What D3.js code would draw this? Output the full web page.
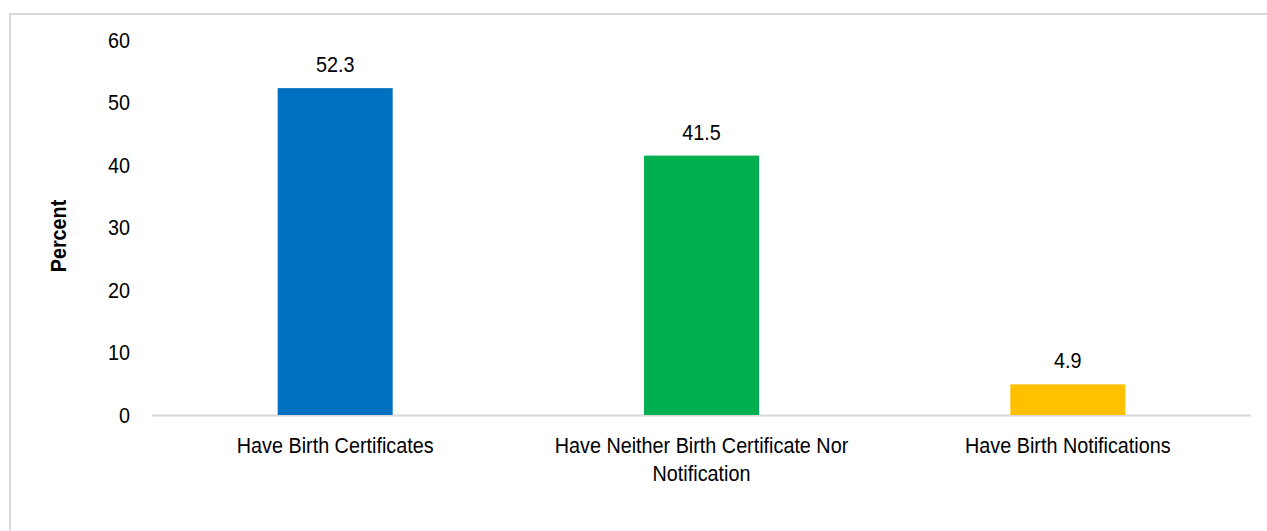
<!DOCTYPE html>
<html><head><meta charset="utf-8">
<script src="https://cdn.jsdelivr.net/npm/d3@7"></script>
<style>body{margin:0;background:#fff;} svg{display:block;}</style>
</head><body>
<svg id="c" width="1267" height="531"></svg>
<script>
const categories = [["Have Birth Certificates"], ["Have Neither Birth Certificate Nor", "Notification"], ["Have Birth Notifications"]];
const values = [52.3, 41.5, 4.9];
const colors = ["#0070c0", "#00b050", "#ffc000"];
const yTicks = [0, 10, 20, 30, 40, 50, 60];
const yLabel = "Percent";

const svg = d3.select("#c");
const font = "'Liberation Sans', Arial, sans-serif";
const FS = 22, SX = 0.9;
function txt(xp, yp, s, anchor, extra) {
  const t = svg.append("text")
    .attr("transform", `translate(${xp},${yp}) ${extra || ""} scale(${SX},1)`)
    .attr("text-anchor", anchor).attr("font-family", font).attr("font-size", FS).attr("fill", "#000")
    .text(s);
  return t;
}
// outer border
svg.append("rect").attr("x", 10).attr("y", 14).attr("width", 1300).attr("height", 600)
  .attr("fill", "none").attr("stroke", "#d9d9d9").attr("stroke-width", 2);

const x0 = 152, x1 = 1251, yTop = 40, yBot = 415;
const x = d3.scaleBand().domain(d3.range(values.length)).range([x0, x1]).padding(0);
const y = d3.scaleLinear().domain([0, 60]).range([yBot, yTop]);
const barW = x.bandwidth() * 0.314;

// y tick labels
yTicks.forEach(t => {
  txt(130, y(t), y.tickFormat()(t), "end").attr("dy", "0.36em");
});

// baseline
svg.append("line").attr("x1", x0).attr("x2", x1).attr("y1", y(0) + 0.5).attr("y2", y(0) + 0.5)
  .attr("stroke", "#d9d9d9").attr("stroke-width", 2);

// bars
svg.selectAll("rect.bar").data(values).enter().append("rect").attr("class", "bar")
  .attr("x", (d, i) => x(i) + x.bandwidth() / 2 - barW / 2)
  .attr("y", d => y(d)).attr("width", barW).attr("height", d => y(0) - y(d))
  .attr("fill", (d, i) => colors[i]);

// value labels
values.forEach((d, i) => {
  txt(x(i) + x.bandwidth() / 2, y(d) - 16, d.toFixed(1), "middle");
});

// category labels
categories.forEach((lines, i) => {
  lines.forEach((l, j) => {
    txt(x(i) + x.bandwidth() / 2, 453 + j * 28, l, "middle");
  });
});

// y label
txt(66, 236, yLabel, "middle", "rotate(-90)").attr("font-weight", "bold");
</script>
</body></html>
